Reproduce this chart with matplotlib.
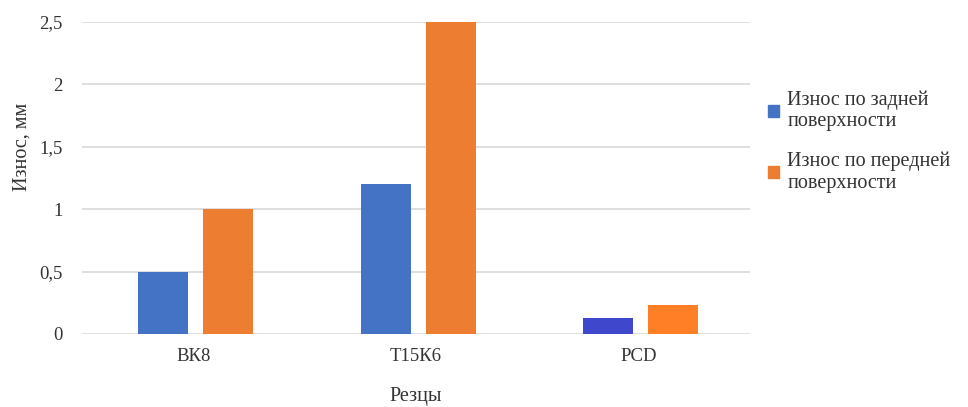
import numpy as np
import matplotlib.pyplot as plt
from matplotlib.ticker import FuncFormatter
from matplotlib.patches import Patch

plt.rcParams['font.family'] = ['Liberation Serif', 'DejaVu Serif']

categories = ["ВК8", "Т15К6", "PCD"]
rear_wear = [0.5, 1.2, 0.13]    # Износ по задней поверхности
front_wear = [1.0, 2.5, 0.23]   # Износ по передней поверхности
series_names = ["Износ по задней\nповерхности", "Износ по передней\nповерхности"]

blue = ["#4472C4", "#4472C4", "#3F48CC"]
orange = ["#ED7D31", "#ED7D31", "#FF7F27"]
txt = "#333333"

fig = plt.figure(figsize=(9.68, 4.07), dpi=100)
ax = fig.add_axes([82/968, 73/407, 668/968, 312/407])

x = np.arange(len(categories))
w = 0.225
gap = 0.067
ax.bar(x - (w + gap) / 2 + 0.01, rear_wear, w, color=blue, zorder=3)
ax.bar(x + (w + gap) / 2 + 0.01, front_wear, w, color=orange, zorder=3)

ax.set_xlim(-0.5, 2.5)
ax.set_ylim(0, 2.5)
ax.set_yticks(np.arange(0, 2.51, 0.5))
ax.yaxis.set_major_formatter(FuncFormatter(lambda v, p: f"{v:g}".replace(".", ",")))
ax.grid(axis="y", color="#d9d9d9", linewidth=1.2, zorder=0)
for s in ax.spines.values():
    s.set_visible(False)
ax.tick_params(length=0, labelsize=13.5, colors=txt)
ax.tick_params(axis="y", pad=14)
ax.tick_params(axis="x", pad=10)
ax.set_xticks(x)
ax.set_xticklabels(categories)

ax.set_ylabel("Износ, мм", fontsize=14.5, color=txt)
ax.yaxis.set_label_coords(-0.075, 0.6)
ax.set_xlabel("Резцы", fontsize=14.5, color=txt, labelpad=16)

handles = [Patch(color="#4472C4"), Patch(color="#ED7D31")]
fig.legend(handles, series_names, loc="upper left", bbox_to_anchor=(750/968, 1 - 72/407),
           frameon=False, fontsize=14.5, handlelength=0.55, handleheight=0.55,
           handletextpad=0.4, labelspacing=1.0, labelcolor=txt)

fig.savefig("out.png", dpi=100)
